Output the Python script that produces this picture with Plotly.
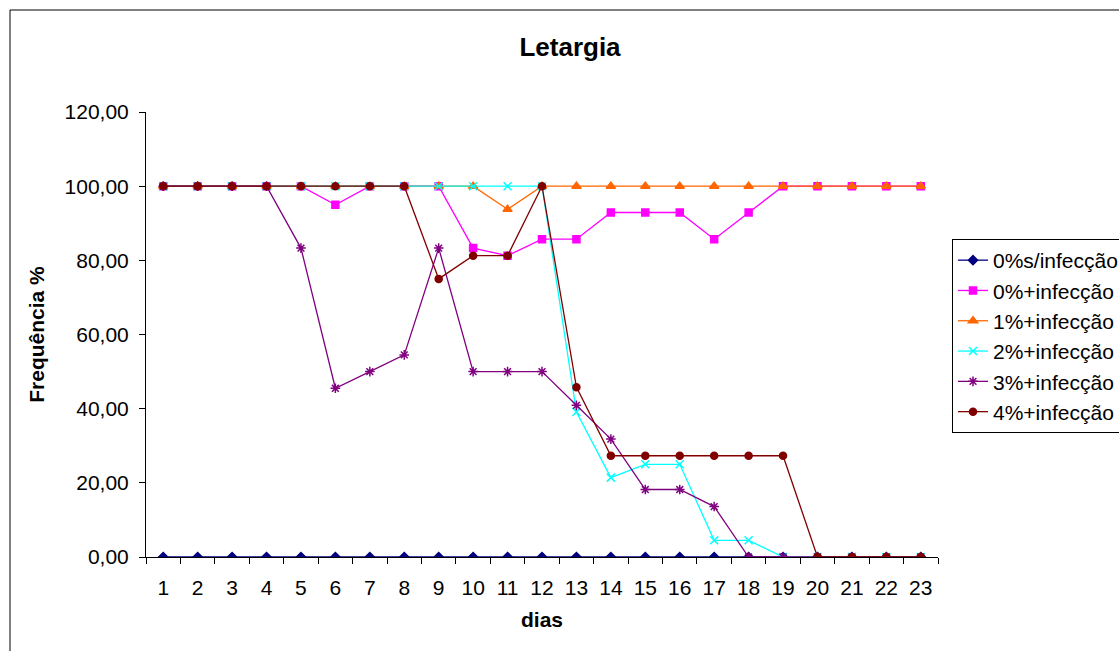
import plotly.graph_objects as go

dias = list(range(1, 24))

s0_sem = [0] * 23
s0_com = [100, 100, 100, 100, 100, 95.0, 100, 100, 100, 83.3, 81.25, 85.7, 85.7,
          92.9, 92.9, 92.9, 85.7, 92.9, 100, 100, 100, 100, 100]
s1_com = [100, 100, 100, 100, 100, 100, 100, 100, 100, 100, 93.75, 100, 100,
          100, 100, 100, 100, 100, 100, 100, 100, 100, 100]
s2_com = [100, 100, 100, 100, 100, 100, 100, 100, 100, 100, 100, 100, 39.1,
          21.4, 25.0, 25.0, 4.5, 4.5, 0, 0, 0, 0, 0]
s3_com = [100, 100, 100, 100, 83.3, 45.5, 50.0, 54.5, 83.3, 50.0, 50.0, 50.0, 40.9,
          31.8, 18.2, 18.2, 13.6, 0, 0, 0, 0, 0, 0]
s4_com = [100, 100, 100, 100, 100, 100, 100, 100, 75.0, 81.25, 81.25, 100, 45.8,
          27.3, 27.3, 27.3, 27.3, 27.3, 27.3, 0, 0, 0, 0]

nomes = ["0%s/infecção", "0%+infecção", "1%+infecção", "2%+infecção",
         "3%+infecção", "4%+infecção"]
series = [s0_sem, s0_com, s1_com, s2_com, s3_com, s4_com]
cores = ["#000080", "#FF00FF", "#FF6600", "#00FFFF", "#800080", "#800000"]
simbolos = ["diamond", "square", "triangle-up", "x-thin-open", "asterisk-open", "circle"]
tamanhos = [7, 7, 8, 8, 8, 7]

y_ticks = [0, 20, 40, 60, 80, 100, 120]
y_labels = ["0,00", "20,00", "40,00", "60,00", "80,00", "100,00", "120,00"]

fig = go.Figure()
for nome, vals, cor, simb, tam in zip(nomes, series, cores, simbolos, tamanhos):
    fig.add_trace(go.Scatter(
        x=dias, y=vals, name=nome, mode="lines+markers",
        line=dict(color=cor, width=1.3),
        marker=dict(symbol=simb, color=cor, size=tam,
                    line=dict(color=cor, width=1.5)),
    ))

# invisible trace on a second x axis that carries the between-category tick marks
fig.add_trace(go.Scatter(x=[0.5, 23.5], y=[None, None], xaxis="x2",
                         showlegend=False, hoverinfo="skip"))

font_base = "Liberation Sans, Arial, sans-serif"

fig.update_layout(
    width=1119, height=651,
    margin=dict(l=146, r=181, t=112, b=94, autoexpand=False),
    paper_bgcolor="white", plot_bgcolor="white",
    font=dict(family=font_base, size=21, color="black"),
    title=dict(text="<b>Letargia</b>", x=(570 - 146) / 792, xref="paper",
               xanchor="center", y=1 - 47 / 651, yanchor="middle",
               font=dict(size=26)),
    xaxis=dict(range=[0.5, 23.5], tickmode="array", tickvals=dias,
               ticktext=[str(d) for d in dias], ticks="", showgrid=False,
               zeroline=False, showline=True, linecolor="black", linewidth=1,
               ticklabelstandoff=12,
               title=dict(text="<b>dias</b>", standoff=14, font=dict(size=21)),
               tickfont=dict(size=21)),
    xaxis2=dict(range=[0.5, 23.5], overlaying="x", side="bottom",
                tickmode="array", tickvals=[i + 0.5 for i in range(0, 24)],
                ticks="outside", ticklen=6, tickcolor="black",
                showticklabels=False, showgrid=False, zeroline=False,
                showline=False, anchor="y"),
    yaxis=dict(range=[0, 120], tickmode="array", tickvals=y_ticks,
               ticktext=y_labels, ticks="outside", ticklen=6, tickcolor="black",
               showgrid=False, zeroline=False, showline=True, linecolor="black",
               linewidth=1, tickfont=dict(size=21), ticklabelstandoff=6,
               title=dict(text="<b>Frequência %</b>", standoff=14,
                          font=dict(size=21))),
    legend=dict(x=(952 - 146) / 792, y=(557 - 239) / 445, xanchor="left",
                yanchor="top", bgcolor="white", bordercolor="black",
                borderwidth=1, font=dict(size=21), tracegroupgap=0,
                itemwidth=30),
    showlegend=True,
)

# chart area frame
fig.add_shape(type="rect", xref="paper", yref="paper",
              x0=(10 - 146) / 792, x1=(1125 - 146) / 792,
              y0=(557 - 660) / 445, y1=(557 - 10) / 445,
              line=dict(color="black", width=1), layer="below")

fig.write_html("out.html")
